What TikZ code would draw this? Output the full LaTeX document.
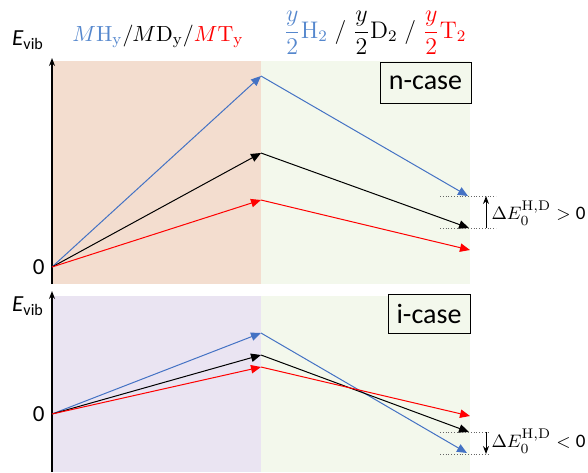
\documentclass[tikz,border=0pt]{standalone}
\usepackage{amsmath}
\usepackage[no-math]{fontspec}
\setmainfont{Carlito}
\usetikzlibrary{arrows.meta}

\definecolor{hblue}{RGB}{68,114,196}
\definecolor{hbluetxt}{RGB}{85,135,205}
\definecolor{tred}{RGB}{255,0,0}
\definecolor{nfill}{RGB}{243,221,207}
\definecolor{gfill}{RGB}{243,248,236}
\definecolor{ifill}{RGB}{234,228,242}

\begin{document}
\begin{tikzpicture}[x=0.5pt, y=-0.5pt, line width=0.5pt,
    tip/.style={-{Triangle[length=5pt,width=4.2pt]}},
    axis/.style={line width=0.7pt, -{Stealth[length=4pt,width=3pt]}},
    lbl/.style={font=\fontsize{11.5}{13}\selectfont, inner sep=0pt},
    dlbl/.style={anchor=west, inner sep=0pt, font=\fontsize{9.5}{11}\selectfont},
    casebox/.style={draw, fill=gfill, line width=0.5pt, font=\fontsize{14}{16}\selectfont, inner sep=0pt},
    guide/.style={densely dotted, line width=0.4pt, gray!80!black}]
\useasboundingbox (0,0) rectangle (588,472);

% backgrounds
\fill[nfill] (52,61) rectangle (261,284);
\fill[gfill] (261,61) rectangle (470,284);
\fill[ifill] (52,296) rectangle (261,472);
\fill[gfill] (261,296) rectangle (470,472);

% titles
\node[inner sep=0pt, font=\fontsize{11}{13}\selectfont] (ttl) at (158,36)
  {$\color{hbluetxt}M\mathrm{H}_{\mathrm{y}}\color{black}/M\mathrm{D}_{\mathrm{y}}/\color{tred}M\mathrm{T}_{\mathrm{y}}$};
\node[inner sep=0pt, font=\fontsize{11.5}{13}\selectfont] (ttr) at (375,33)
  {$\color{hbluetxt}\dfrac{y}{2}\mathrm{H}_2\color{black}\;/\;\dfrac{y}{2}\mathrm{D}_2\;/\;\color{tred}\dfrac{y}{2}\mathrm{T}_2$};

% upper panel (n-case)
\coordinate (on) at (52,267);
\coordinate (bn) at (261,76);
\coordinate (kn) at (261,153);
\coordinate (rn) at (261,200);
\coordinate (bne) at (468,196);
\coordinate (kne) at (469,228);
\coordinate (rne) at (470,250);
\draw[axis] (52,284) -- (52,58);
\node[lbl] (evn) at (28,40) {\textit{E}\textsubscript{vib}};
\node[lbl, anchor=east] (zn) at (45,267) {0};
\node[casebox, minimum width=45.5pt, minimum height=20.5pt] (ncase) at (425.5,82.5) {n-case};
\draw[tip, hblue] (on) -- (bn);
\draw[tip, black] (on) -- (kn);
\draw[tip, tred] (on) -- (rn);
\draw[tip, hblue] (bn) -- (bne);
\draw[tip, black] (kn) -- (kne);
\draw[tip, tred] (rn) -- (rne);
\draw[guide] (440,196) -- (496,196);
\draw[guide] (440,228) -- (496,228);
\coordinate (dnb) at (486,228);
\coordinate (dnt) at (486,196);
\draw[-{Stealth[length=4pt,width=3pt]}] (dnb) -- (dnt);
\node[dlbl] (dEn) at (491,213) {$\Delta E_0^{\mathrm{H,D}} > \text{0}$};

% lower panel (i-case)
\coordinate (oi) at (52,414);
\coordinate (bi) at (261,333);
\coordinate (ki) at (261,355);
\coordinate (ri) at (261,367);
\coordinate (bie) at (467,453);
\coordinate (kie) at (469,432);
\coordinate (rie) at (470,416);
\draw[axis] (52,472) -- (52,291);
\node[lbl] (evi) at (28,306) {\textit{E}\textsubscript{vib}};
\node[lbl, anchor=east] (zi) at (45,414) {0};
\node[casebox, minimum width=41pt, minimum height=19.5pt] (icase) at (429,313.5) {i-case};
\draw[tip, hblue] (oi) -- (bi);
\draw[tip, black] (oi) -- (ki);
\draw[tip, tred] (oi) -- (ri);
\draw[tip, hblue] (bi) -- (bie);
\draw[tip, black] (ki) -- (kie);
\draw[tip, tred] (ri) -- (rie);
\draw[guide] (440,432) -- (488,432);
\draw[guide] (440,454) -- (488,454);
\coordinate (dit) at (486,432);
\coordinate (dib) at (486,454);
\draw[-{Stealth[length=4pt,width=3pt]}] (dit) -- (dib);
\node[dlbl] (dEi) at (491,441) {$\Delta E_0^{\mathrm{H,D}} < \text{0}$};
\end{tikzpicture}
\end{document}
